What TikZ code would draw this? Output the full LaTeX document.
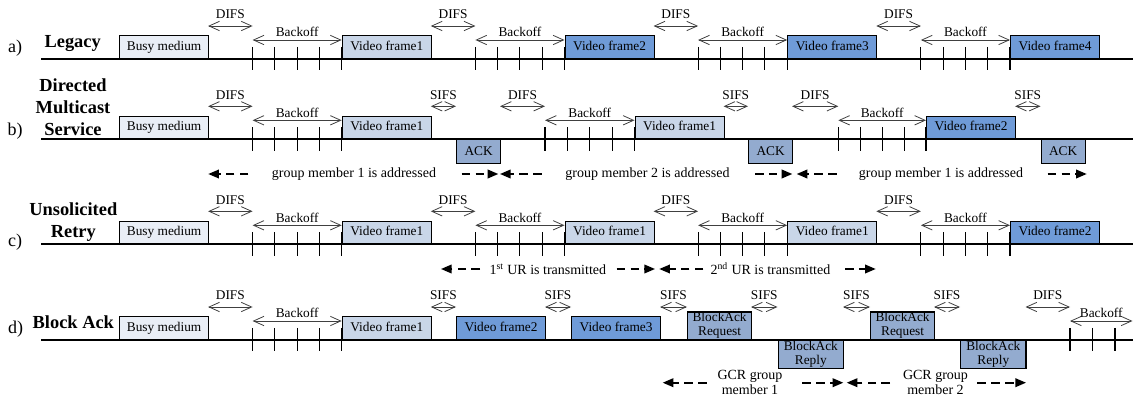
\documentclass[tikz,border=0pt]{standalone}
\usepackage{fontspec}
\setmainfont{Liberation Serif}
\usepackage{tikz}
\usetikzlibrary{arrows.meta, positioning}

\definecolor{busyfill}{HTML}{E9EEF6}
\definecolor{oldfill}{HTML}{C9D6E8}
\definecolor{newfill}{HTML}{6F9BD8}
\definecolor{ackfill}{HTML}{93ABCF}

\begin{document}
\begin{tikzpicture}[x=0.75pt, y=-0.75pt, >=latex]
    \tikzstyle{medium} = [line width=1.5pt]
    \tikzstyle{pkt} = [rectangle, draw, line width=0.9pt, inner sep=0pt, font=\fontsize{10}{10.5}\selectfont]
    \tikzstyle{frm} = [pkt, text height=0.68em, text depth=0.2em, minimum width=66.8pt, minimum height=16.9pt, anchor=south west]
    \tikzstyle{busy} = [frm, fill=busyfill]
    \tikzstyle{oldfrm} = [frm, fill=oldfill]
    \tikzstyle{newfrm} = [frm, fill=newfill]
    \tikzstyle{ack} = [pkt, fill=ackfill, text height=0.68em, text depth=0.2em, minimum width=33pt, minimum height=18pt, anchor=north west]
    \tikzstyle{bar} = [pkt, fill=ackfill, align=center, minimum width=48pt, minimum height=20.5pt, anchor=south west]
    \tikzstyle{reply} = [bar, minimum width=49.1pt, minimum height=21.2pt, anchor=north west]
    \tikzstyle{ifs} = [{Straight Barb[length=7.8pt,width=7pt]}-{Straight Barb[length=7.8pt,width=7pt]}, line width=0.6pt, draw=black!75]
    \tikzstyle{slot} = [line width=0.8pt]
    \tikzstyle{lbl} = [inner sep=0pt, font=\fontsize{10}{12}\selectfont]
    \tikzstyle{note} = [inner sep=0pt, align=center, font=\fontsize{10.5}{11.25}\selectfont]
    \tikzstyle{span} = [-{Triangle[length=8pt,width=6.5pt]}, line width=1.2pt, dash pattern=on 6.4pt off 4pt]
    \tikzstyle{rowtag} = [font=\fontsize{13.5}{16}\selectfont]
    \tikzstyle{rowname} = [align=center, font=\bfseries\fontsize{13.8}{16.5}\selectfont]

    \useasboundingbox (0,0) rectangle (1133,399);

    % a) legacy multicast
    \begin{scope}[shift={(0,59)}]
        \draw[medium] (41,0) -- (1133,0);
        \node[rowtag] (taga) at (15,-11) {a)};
        \node[rowname] (namea) at (72.7,-15.5) {Legacy};
        \node[busy] (busya) at (119,0) {Busy medium};
        \node[oldfrm] (fa1) at (341.7,0) {Video frame1};
        \node[newfrm] (fa2) at (564.5,0) {Video frame2};
        \node[newfrm] (fa3) at (787.2,0) {Video frame3};
        \node[newfrm] (fa4) at (1010,0) {Video frame4};
        \foreach \d/\b/\e in {208.1/252.6/341.7, 430.8/475.4/564.5, 653.6/698.1/787.2, 876.3/920.9/1010} {
            \draw[ifs] (\d,-33) -- node[lbl, above=5pt] {DIFS} (\b,-33);
            \draw[ifs] (\b,-19) -- node[lbl, above=2pt] {Backoff} (\e,-19);
            \foreach \k in {0,...,4}
                \draw[slot] ({\b+\k*(\e-\b)/4},-12) -- ++(0,23.5);
        }
    \end{scope}

    % b) directed multicast service
    \begin{scope}[shift={(0,139.3)}]
        \draw[medium] (41,0) -- (1133,0);
        \node[rowtag] (tagb) at (15,-8.3) {b)};
        \node[rowname] (nameb) at (73,-32.3) {Directed\\Multicast\\Service};
        \node[busy] (busyb) at (119,0) {Busy medium};
        \node[oldfrm] (fb1) at (341.7,0) {Video frame1};
        \node[ack] (ackb1) at (456,0) {ACK};
        \node[oldfrm] (fb2) at (634.5,0) {Video frame1};
        \node[ack] (ackb2) at (748,0) {ACK};
        \node[newfrm] (fb3) at (926,0) {Video frame2};
        \node[ack] (ackb3) at (1040.5,0) {ACK};
        \foreach \d/\b/\e in {208.1/252.6/341.7, 500/545/634.5, 792/838.3/926} {
            \draw[ifs] (\d,-33) -- node[lbl, above=5pt] {DIFS} (\b,-33);
            \draw[ifs] (\b,-19) -- node[lbl, above=2pt] {Backoff} (\e,-19);
            \foreach \k in {0,...,4}
                \draw[slot] ({\b+\k*(\e-\b)/4},-12) -- ++(0,23.5);
        }
        \foreach \a/\c in {430.8/456, 723.6/748, 1015.1/1040.5}
            \draw[ifs] (\a,-33) -- node[lbl, above=5pt] {SIFS} (\c,-33);
        \node[note] (gmb1) at (354,34.7) {group member 1 is addressed};
        \node[note] (gmb2) at (647.5,34.7) {group member 2 is addressed};
        \node[note] (gmb3) at (941,34.7) {group member 1 is addressed};
        % dashed spans, tip last
        \foreach \t/\l in {208.3/40, 498.3/-36.6, 500/41.7, 792.3/-37.3, 796.7/40, 1086.7/-39}
            \draw[span] ({\t+\l},34.7) -- (\t,34.7);
    \end{scope}

    % c) unsolicited retry
    \begin{scope}[shift={(0,244.3)}]
        \draw[medium] (41,0) -- (1133,0);
        \node[rowtag] (tagc) at (15,-2.6) {c)};
        \node[rowname] (namec) at (73.3,-22.6) {Unsolicited\\Retry};
        \node[busy] (busyc) at (119,0) {Busy medium};
        \node[oldfrm] (fc1) at (341.7,0) {Video frame1};
        \node[oldfrm] (fc2) at (564.5,0) {Video frame1};
        \node[oldfrm] (fc3) at (787.2,0) {Video frame1};
        \node[newfrm] (fc4) at (1010,0) {Video frame2};
        \foreach \d/\b/\e in {208.1/252.6/341.7, 430.8/475.4/564.5, 653.6/698.1/787.2, 876.3/920.9/1010} {
            \draw[ifs] (\d,-33) -- node[lbl, above=5pt] {DIFS} (\b,-33);
            \draw[ifs] (\b,-19) -- node[lbl, above=2pt] {Backoff} (\e,-19);
            \foreach \k in {0,...,4}
                \draw[slot] ({\b+\k*(\e-\b)/4},-12) -- ++(0,23.5);
        }
        \node[note] (urc1) at (547.9,24.7) {1\textsuperscript{st} UR is transmitted};
        \node[note] (urc2) at (770.4,24.7) {2\textsuperscript{nd} UR is transmitted};
        \foreach \t/\l in {441/39, 655/-38.3, 659.3/44, 875.7/-30.7}
            \draw[span] ({\t+\l},24.7) -- (\t,24.7);
    \end{scope}

    % d) block ack
    \begin{scope}[shift={(0,340)}]
        \draw[medium] (41,0) -- (1133,0);
        \node[rowtag] (tagd) at (15.5,-10.7) {d)};
        \node[rowname] (named) at (73.3,-17.3) {Block Ack};
        \node[busy] (busyd) at (119,0) {Busy medium};
        \node[oldfrm] (fd1) at (341.7,0) {Video frame1};
        \node[newfrm] (fd2) at (456,0) {Video frame2};
        \node[newfrm] (fd3) at (571,0) {Video frame3};
        \node[bar] (bard1) at (687,0) {BlockAck\\Request};
        \node[reply] (repd1) at (777.5,0) {BlockAck\\Reply};
        \node[bar] (bard2) at (870,0) {BlockAck\\Request};
        \node[reply] (repd2) at (960,0) {BlockAck\\Reply};
        \foreach \d/\b/\e in {208.1/252.6/341.7} {
            \draw[ifs] (\d,-33) -- node[lbl, above=5pt] {DIFS} (\b,-33);
            \draw[ifs] (\b,-19) -- node[lbl, above=2pt] {Backoff} (\e,-19);
            \foreach \k in {0,...,4}
                \draw[slot] ({\b+\k*(\e-\b)/4},-12) -- ++(0,23.5);
        }
        \draw[ifs] (1025.5,-33) -- node[lbl, above=5pt] {DIFS} (1070,-33);
        \draw[ifs] (1070,-19) -- node[lbl, above=2pt] {Backoff} (1132.5,-19);
        \foreach \x in {1070, 1092.5, 1115}
            \draw[slot] (\x,-12) -- ++(0,23.5);
        \foreach \a/\c in {430.8/456, 545.1/571, 660.1/687, 751/777.5, 843/870, 934/960}
            \draw[ifs] (\a,-33) -- node[lbl, above=5pt] {SIFS} (\c,-33);
        \node[note] (gcrd1) at (750,42.5) {GCR group\\member 1};
        \node[note] (gcrd2) at (935.5,42.5) {GCR group\\member 2};
        \foreach \t/\l in {662.7/44, 843.3/-41, 846.7/43.3, 1026/-48.7}
            \draw[span] ({\t+\l},42.7) -- (\t,42.7);
    \end{scope}
\end{tikzpicture}
\end{document}
